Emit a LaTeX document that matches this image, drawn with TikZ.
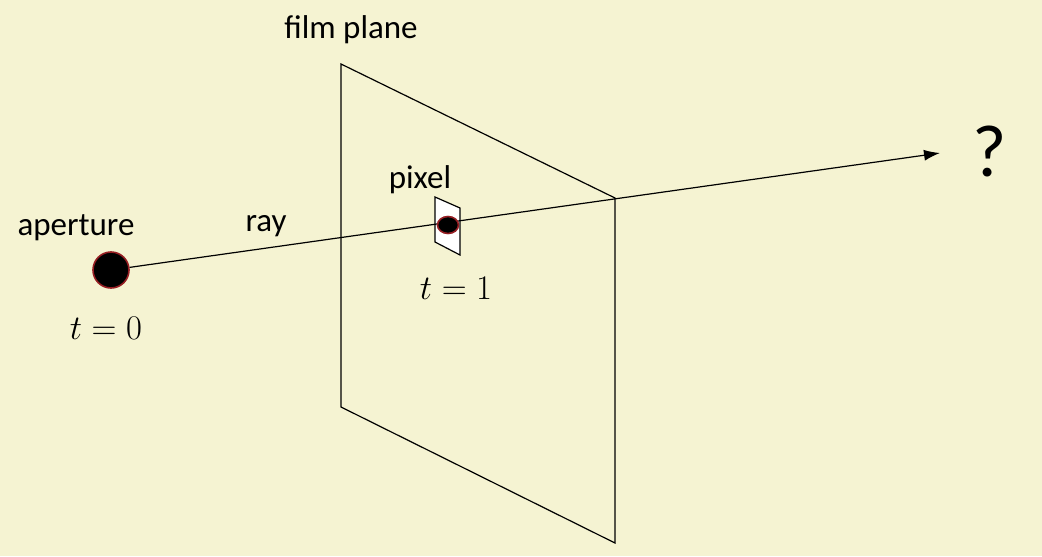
\documentclass[tikz,border=0pt]{standalone}
\usepackage{fontspec}
\setmainfont{Carlito}
\usetikzlibrary{arrows.meta, shapes.geometric}
\definecolor{parchment}{RGB}{245,243,210}
\definecolor{rim}{RGB}{150,30,35}

\begin{document}
\begin{tikzpicture}[x=0.5pt, y=-0.5pt]
    \tikzset{
        label/.style={font=\fontsize{16.5}{19}\selectfont, inner sep=0pt},
        mathlabel/.style={font=\fontsize{16.5}{19}\selectfont, inner sep=0pt},
        hole/.style={draw=rim, fill=black, line width=0.8pt},
    }

    % Background
    \fill[parchment] (0,0) rectangle (1042,556);
    \useasboundingbox (0,0) rectangle (1042,556);

    % Film plane
    \coordinate (f1) at (341,64);
    \coordinate (f2) at (615,198);
    \coordinate (f3) at (615,543);
    \coordinate (f4) at (341,407);
    \draw[line width=0.6pt] (f1) -- (f2) -- (f3) -- (f4) -- cycle;
    \node[label] (film) at (351,30) {film plane};

    % Pixel
    \draw[fill=white, line width=0.6pt] (435,197) -- (460,208) -- (460,255) -- (435,242) -- cycle;
    \node[label] (pixlabel) at (420,180) {pixel};
    \node[mathlabel] (t1) at (456,288) {$t = 1$};

    % Aperture
    \node[hole, circle, minimum size=18pt, inner sep=0pt] (ap) at (111,270) {};
    \node[label] (aplabel) at (76,228) {aperture};
    \node[mathlabel] (t0) at (106,328) {$t = 0$};

    % Ray
    \coordinate (tip) at (940,153);
    \node[inner sep=0pt] (q) at (990,151) {\fontsize{37}{40}\selectfont ?};
    \draw[line width=0.6pt, -{Latex[length=8pt, width=5.5pt]}] (ap) -- (tip);
    \node[label] (raylabel) at (266,226) {ray};

    % Pixel hit
    \node[hole, ellipse, minimum width=10.5pt, minimum height=8.5pt, inner sep=0pt] (pix) at (448,225) {};
\end{tikzpicture}
\end{document}
